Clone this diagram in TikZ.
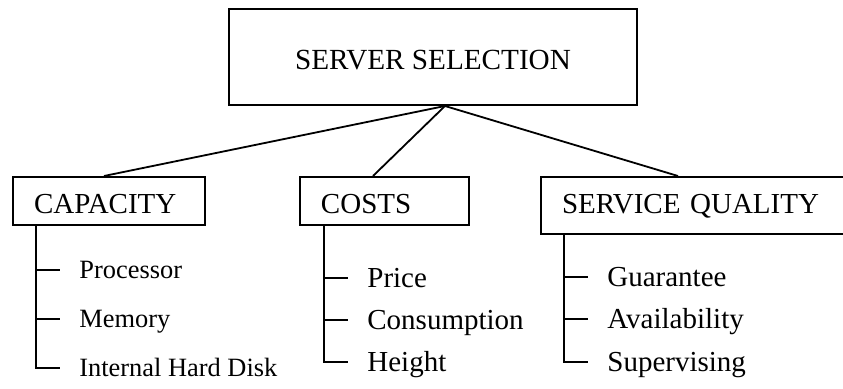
\documentclass[tikz,border=0pt]{standalone}
\usepackage{fontspec}
\setmainfont{Liberation Serif}
\usepackage{tikz}
\usetikzlibrary{calc}
\tikzset{
    normal/.style={draw, line width=1pt},
    top/.style={style=normal, anchor=north west, inner sep=0, minimum width=204pt, minimum height=48pt, text height=12.6pt, text depth=0pt, font=\fontsize{14.6}{17}\selectfont}, % root box
    cat/.style={style=normal, anchor=north west, align=left, inner xsep=10.5pt, inner ysep=3pt, text height=15.5pt, text depth=2.5pt, font=\fontsize{14.5}{17}\selectfont}, % criterion boxes
    item/.style={anchor=west, inner xsep=9.5pt, inner ysep=0pt, text height=9.6pt, text depth=0pt, font=\fontsize{14.5}{17}\selectfont}, % sub-criteria
    smallitem/.style={style=item, text height=8.7pt, font=\fontsize{13.2}{16}\selectfont},
    te/.style={line width=0.9pt} % edges in the tree
}

\begin{document}
\begin{tikzpicture}[x=0.5pt, y=-0.5pt]
          \useasboundingbox (0, 0) rectangle (843, 389);
          \node[top] (root) at (228, 8) {SERVER SELECTION};
          \node[cat, text width=75pt] (cap) at (12, 176) {CAPACITY};
          \node[cat, text width=63.5pt] (costs) at (299, 176) {COSTS};
          \node[cat, text width=136pt, text depth=7pt] (sq) at (540, 176) {SERVICE QUALITY};

          \node[smallitem] (proc) at (60, 270) {Processor};
          \node[smallitem] (mem) at (60, 319) {Memory};
          \node[smallitem] (disk) at (60, 368) {Internal Hard Disk};

          \node[item] (price) at (348, 278) {Price};
          \node[item] (cons) at (348, 320) {Consumption};
          \node[item] (height) at (348, 362) {Height};

          \node[item] (guar) at (588, 277) {Guarantee};
          \node[item] (avail) at (588, 319) {Availability};
          \node[item] (superv) at (588, 362) {Supervising};

          \draw[te] ([xshift=6pt]root.south) to ([xshift=-2.5pt]cap.north);
          \draw[te] ([xshift=6pt]root.south) to ([xshift=-5.75pt]costs.north);
          \draw[te] ([xshift=6pt]root.south) to ([xshift=-10pt]sq.north);

          \draw[te] ([xshift=12pt]cap.south west) coordinate (capt) |- (disk.west);
          \draw[te] (capt |- proc.west) to (proc.west);
          \draw[te] (capt |- mem.west) to (mem.west);

          \draw[te] ([xshift=12.5pt]costs.south west) coordinate (costt) |- (height.west);
          \draw[te] (costt |- price.west) to (price.west);
          \draw[te] (costt |- cons.west) to (cons.west);

          \draw[te] ([xshift=12pt]sq.south west) coordinate (sqt) |- (superv.west);
          \draw[te] (sqt |- guar.west) to (guar.west);
          \draw[te] (sqt |- avail.west) to (avail.west);
        \end{tikzpicture}
\end{document}
